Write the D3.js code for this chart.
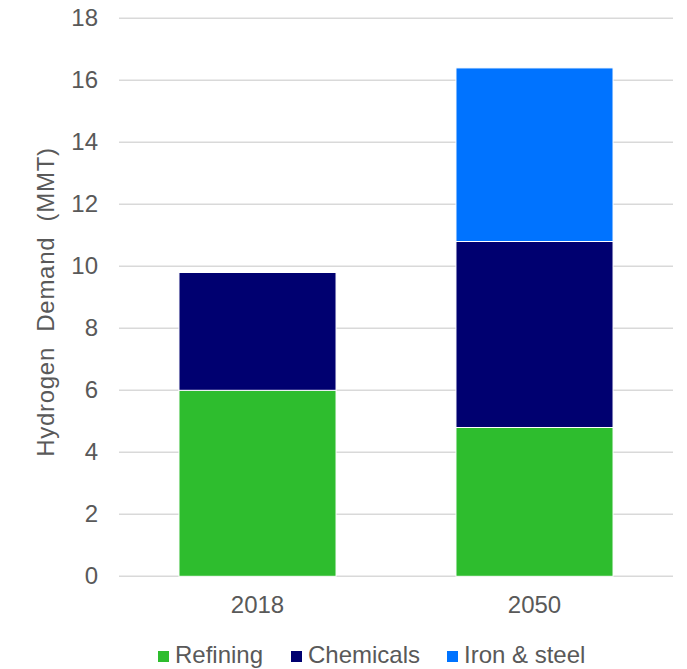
<!DOCTYPE html>
<html>
<head>
<meta charset="utf-8">
<script src="https://cdn.jsdelivr.net/npm/d3@7"></script>
<style>
  body { margin: 0; background: #fff; }
  text { font-family: Arial, "Liberation Sans", sans-serif; fill: #595959; }
</style>
</head>
<body>
<script>
// chart data
var years = ["2018", "2050"]
var series = ["Refining", "Chemicals", "Iron & steel"]
var refining = [6.0, 4.8]
var chemicals = [3.8, 6.0]
var ironSteel = [0, 5.6]
var colors = ["#2ebd2e", "#000070", "#0073ff"]
var yTicks = [0, 2, 4, 6, 8, 10, 12, 14, 16, 18]

function drawChart() {
  var w = 687, h = 669
  var plotLeft = 119, plotRight = 673, plotTop = 18.3, plotBottom = 576.3

  var rows = years.map(function(y, i) {
    return { year: y, "Refining": refining[i], "Chemicals": chemicals[i], "Iron & steel": ironSteel[i] }
  })
  var stacked = d3.stack().keys(series)(rows)

  var svg = d3.select("body").append("svg")
    .attr("width", w)
    .attr("height", h)

  var x = d3.scaleBand()
    .domain(years)
    .range([plotLeft, plotRight])
    .paddingInner(0.433)
    .paddingOuter(0.2165)

  var y = d3.scaleLinear()
    .domain([0, 18])
    .range([plotBottom, plotTop])

  var color = d3.scaleOrdinal().domain(series).range(colors)

  // gridlines
  svg.append("g")
    .selectAll("line")
    .data(yTicks)
    .enter().append("line")
    .attr("x1", plotLeft)
    .attr("x2", plotRight)
    .attr("y1", function(d) { return y(d) })
    .attr("y2", function(d) { return y(d) })
    .attr("stroke", "#d9d9d9")
    .attr("stroke-width", 1.5)

  // y axis labels
  var yAxis = d3.axisLeft(y).tickValues(yTicks).tickSize(0).tickPadding(0)
  svg.append("g")
    .attr("transform", "translate(98,0)")
    .call(yAxis)
    .call(function(g) { g.select(".domain").remove() })
    .selectAll("text")
    .attr("font-size", 24)
    .attr("font-family", "Arial, 'Liberation Sans', sans-serif")
    .attr("fill", "#595959")

  // bars
  svg.append("g")
    .selectAll("g")
    .data(stacked)
    .enter().append("g")
    .attr("fill", function(d) { return color(d.key) })
    .selectAll("rect")
    .data(function(d) { return d.filter(function(p) { return p[1] > p[0] }) })
    .enter().append("rect")
    .attr("x", function(d) { return x(d.data.year) })
    .attr("width", x.bandwidth())
    .attr("y", function(d) { return y(d[1]) })
    .attr("height", function(d) { return y(d[0]) - y(d[1]) })
    .attr("stroke", "#fff")
    .attr("stroke-width", 1)

  // x axis
  var xAxis = d3.axisBottom(x).tickSize(0).tickPadding(0)
  svg.append("g")
    .attr("transform", "translate(0," + plotBottom + ")")
    .call(xAxis)
    .call(function(g) { g.select(".domain").remove() })
    .selectAll("text")
    .attr("dy", null)
    .attr("y", 37)
    .attr("font-size", 24)
    .attr("font-family", "Arial, 'Liberation Sans', sans-serif")
    .attr("fill", "#595959")

  // y title
  svg.append("text")
    .attr("transform", "translate(54,302) rotate(-90)")
    .attr("text-anchor", "middle")
    .attr("font-size", 24)
    .attr("word-spacing", 8)
    .attr("letter-spacing", 0.7)
    .text("Hydrogen Demand (MMT)")

  // legend
  var legendX = [158, 291, 447]
  var legend = svg.selectAll(".legend")
    .data(series)
    .enter().append("g")
    .attr("class", "legend")
    .attr("transform", function(d, i) { return "translate(" + legendX[i] + ",0)" })

  legend.append("rect")
    .attr("y", 651)
    .attr("width", 11)
    .attr("height", 11)
    .attr("fill", function(d) { return color(d) })

  legend.append("text")
    .attr("x", 17)
    .attr("y", 663)
    .attr("font-size", 24)
    .text(function(d) { return d })
}

drawChart()
</script>
</body>
</html>
